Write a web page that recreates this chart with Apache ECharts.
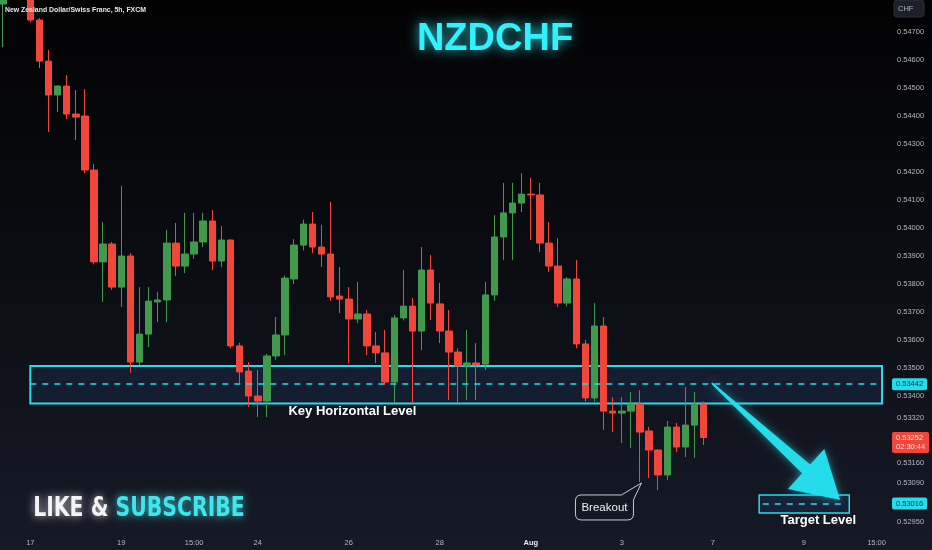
<!DOCTYPE html>
<html>
<head>
<meta charset="utf-8">
<script src="https://cdn.jsdelivr.net/npm/echarts@6/dist/echarts.min.js"></script>
<style>
html,body{margin:0;padding:0;background:#0b0d12;}
#chart{width:932px;height:550px;}
</style>
</head>
<body>
<div id="chart"></div>
<script>
// ---- candle data (5h NZDCHF), index = bar number ----
const opens = [
0.54800,0.54850,0.54900,0.54840,0.54743,0.54596,0.54475,0.54507,0.54407,0.54400,
0.54207,0.53879,0.53943,0.53789,0.53900,0.53521,0.53621,0.53736,0.53743,0.53946,
0.53864,0.53907,0.53950,0.54025,0.53882,0.53957,0.53579,0.53489,0.53400,0.53382,
0.53543,0.53618,0.53818,0.53939,0.54014,0.53932,0.53907,0.53757,0.53746,0.53675,
0.53693,0.53579,0.53554,0.53450,0.53679,0.53721,0.53632,0.53850,0.53729,0.53632,
0.53557,0.53507,0.53518,0.53514,0.53761,0.53968,0.54054,0.54089,0.54121,0.54118,
0.53946,0.53864,0.53732,0.53818,0.53586,0.53393,0.53650,0.53346,0.53339,0.53346,
0.53371,0.53275,0.53207,0.53118,0.53289,0.53218,0.53296,0.53371];
const closes = [
0.54850,0.54900,0.54840,0.54743,0.54596,0.54475,0.54507,0.54407,0.54396,0.54207,
0.53879,0.53943,0.53789,0.53900,0.53521,0.53621,0.53739,0.53743,0.53946,0.53864,
0.53907,0.53950,0.54025,0.53882,0.53957,0.53579,0.53486,0.53400,0.53382,0.53543,
0.53618,0.53821,0.53939,0.54014,0.53932,0.53907,0.53754,0.53746,0.53675,0.53693,
0.53579,0.53554,0.53450,0.53679,0.53721,0.53632,0.53850,0.53732,0.53632,0.53557,
0.53507,0.53518,0.53511,0.53761,0.53968,0.54054,0.54089,0.54121,0.54118,0.53946,
0.53864,0.53732,0.53818,0.53586,0.53393,0.53650,0.53346,0.53339,0.53346,0.53371,
0.53271,0.53207,0.53118,0.53289,0.53218,0.53296,0.53371,0.53252];
const lows = [
0.54646,0.54830,0.54820,0.54735,0.54571,0.54343,0.54414,0.54389,0.54314,0.54196,
0.53870,0.53736,0.53779,0.53718,0.53482,0.53511,0.53575,0.53664,0.53664,0.53829,
0.53839,0.53890,0.53932,0.53850,0.53860,0.53570,0.53446,0.53361,0.53325,0.53325,
0.53529,0.53546,0.53800,0.53920,0.53910,0.53861,0.53740,0.53696,0.53518,0.53660,
0.53546,0.53518,0.53440,0.53375,0.53670,0.53375,0.53564,0.53671,0.53589,0.53386,
0.53375,0.53386,0.53386,0.53493,0.53740,0.53886,0.53886,0.54057,0.53957,0.53914,
0.53843,0.53718,0.53720,0.53570,0.53380,0.53380,0.53279,0.53271,0.53232,0.53214,
0.53093,0.53107,0.53064,0.53100,0.53200,0.53182,0.53179,0.53225];
const highs = [
0.54870,0.54920,0.54910,0.54850,0.54750,0.54636,0.54510,0.54546,0.54493,0.54496,
0.54229,0.54021,0.53950,0.54150,0.53910,0.53789,0.53789,0.53771,0.53993,0.54018,
0.54054,0.54054,0.54054,0.54064,0.54007,0.53960,0.53590,0.53521,0.53493,0.53550,
0.53682,0.53830,0.53960,0.54030,0.54057,0.54011,0.54093,0.53861,0.53789,0.53807,
0.53707,0.53629,0.53636,0.53690,0.53850,0.53750,0.53932,0.53904,0.53804,0.53707,
0.53570,0.53636,0.53589,0.53807,0.54046,0.54161,0.54161,0.54196,0.54179,0.54161,
0.54021,0.53964,0.53825,0.53886,0.53600,0.53732,0.53682,0.53396,0.53396,0.53414,
0.53421,0.53290,0.53210,0.53311,0.53304,0.53432,0.53414,0.53380];

// ---- axes ----
const xTickIndex = [3, 13, 21, 28, 38, 48, 58, 68, 78, 88, 96];
const xTickText  = ['17', '19', '15:00', '24', '26', '28', 'Aug', '3', '7', '9', '15:00'];
const yTickValues = [0.547, 0.546, 0.545, 0.544, 0.543, 0.542, 0.541, 0.540, 0.539, 0.538,
                     0.537, 0.536, 0.535, 0.534, 0.5332, 0.5316, 0.5309, 0.5295];
const xRange = [-0.33, 96.6];
const yRange = [0.529143, 0.548143];

// ---- annotations ----
const keyLevel = 0.53442;
const zoneBounds = [0.53507, 0.53373];
const zoneStart = 3;
const targetLevel = 0.53016;
const targetBounds = [0.53046, 0.52982];
const targetSpan = [83.1, 93.0];
const targetLine = [83.5, 92.6];
const lastPrice = 0.53252;
const lastCountdown = '02:30:44';
const arrowFrom = [77.9, 0.53446];
const arrowTo = [92.0, 0.53029];
const breakoutIndex = 70;
const noteText = ['Key Horizontal Level', 'Target Level'];
const noteX = [38.4, 89.6];
const noteY = [0.53346, 0.52954];

const CYAN = '#25dceb';
const GREEN = '#41994d';
const RED = '#f2463a';
const FONT = '"Liberation Sans", Arial, sans-serif';
const CLEAR = 'rgba(0,0,0,0)';

const candleData = opens.map((o, i) => [i, o, closes[i], lows[i], highs[i]]);

const chart = echarts.init(document.getElementById('chart'), null, {renderer: 'canvas'});

const badge = (bg, fg, text) => ({
  show: true, position: 'end', distance: 10, formatter: text,
  backgroundColor: bg, color: fg, padding: [2, 4, 1, 4], borderRadius: 2,
  fontSize: 7.5, fontFamily: FONT, lineHeight: 9, opacity: 1
});

const option = {
  animation: false,
  backgroundColor: 'transparent',
  graphic: [
    {type: 'rect', z: -10, silent: true, shape: {x: 0, y: 0, width: 932, height: 550},
     style: {fill: new echarts.graphic.LinearGradient(0, 0, 0, 1, [
       {offset: 0, color: '#020203'}, {offset: 0.45, color: '#0a0c11'}, {offset: 1, color: '#161a26'}])}},
    {type: 'text', z: 100, x: 5, y: 10, style: {text: 'New Zealand Dollar/Swiss Franc, 5h, FXCM',
      fill: '#e6e8ee', font: 'bold 6.9px ' + FONT, verticalAlign: 'middle'}},
    {type: 'text', z: 100, x: 495, y: 40, style: {text: 'NZDCHF', align: 'center', verticalAlign: 'middle',
      fill: '#2ef3ff', font: 'bold 38px ' + FONT, textShadowColor: 'rgba(46,243,255,0.85)', textShadowBlur: 12}},
    {type: 'text', z: 100, x: 139, y: 509, scaleX: 0.84, style: {
      text: '{w|LIKE & }{c|SUBSCRIBE}', align: 'center', verticalAlign: 'middle',
      rich: {
        w: {fill: '#f4f4f4', font: 'bold 27px "Liberation Sans Narrow", "DejaVu Sans Condensed", ' + FONT,
            textShadowColor: 'rgba(255,255,255,0.75)', textShadowBlur: 9},
        c: {fill: '#3fe6ee', font: 'bold 27px "Liberation Sans Narrow", "DejaVu Sans Condensed", ' + FONT,
            textShadowColor: 'rgba(63,230,238,0.85)', textShadowBlur: 9}
      }}},
    {type: 'group', z: 100, children: [
      {type: 'rect', shape: {x: 894, y: 0, width: 30, height: 17, r: 3}, style: {fill: '#1c2029', stroke: '#2a2e39', lineWidth: 1}},
      {type: 'text', x: 898, y: 9, style: {text: 'CHF', fill: '#b2b5be', font: '7.5px ' + FONT, verticalAlign: 'middle'}}
    ]}
  ],
  grid: {left: 0, right: 50, top: 0, bottom: 18, containLabel: false},
  xAxis: {
    type: 'value', min: xRange[0], max: xRange[1],
    axisLine: {show: false}, axisTick: {show: false}, splitLine: {show: false},
    axisLabel: {
      customValues: xTickIndex, margin: 7, color: '#b2b5be', fontSize: 7.5, fontFamily: FONT,
      formatter: v => {
        const k = xTickIndex.indexOf(Math.round(v));
        const t = k >= 0 ? xTickText[k] : '';
        return t === 'Aug' ? '{b|Aug}' : t;
      },
      rich: {b: {color: '#e6e8ee', fontWeight: 'bold', fontSize: 7.5, fontFamily: FONT}}
    }
  },
  yAxis: {
    type: 'value', position: 'right', min: yRange[0], max: yRange[1], scale: true,
    axisLine: {show: false}, axisTick: {show: false}, splitLine: {show: false},
    axisLabel: {customValues: yTickValues, margin: 15, color: '#b2b5be', fontSize: 7.5, fontFamily: FONT,
      formatter: v => v.toFixed(5)}
  },
  series: [
    {
      type: 'candlestick', name: 'NZDCHF',
      data: candleData, encode: {x: 0, y: [1, 2, 3, 4]},
      barWidth: 7, clip: true,
      itemStyle: {color: GREEN, color0: RED, borderColor: GREEN, borderColor0: RED, borderWidth: 1},
      markArea: {
        silent: true,
        data: [
          [{coord: [zoneStart, zoneBounds[0]], itemStyle: {color: 'rgba(34,52,96,0.32)', borderColor: CYAN, borderWidth: 2}},
           {coord: [xRange[1], zoneBounds[1]]}],
          [{coord: [targetSpan[0], targetBounds[0]], itemStyle: {color: 'rgba(34,52,96,0.32)', borderColor: CYAN, borderWidth: 1.5}},
           {coord: [targetSpan[1], targetBounds[1]]}]
        ]
      },
      markLine: {
        silent: true, symbol: 'none',
        data: [
          [{coord: [zoneStart, keyLevel], lineStyle: {color: CYAN, type: [6, 6], width: 1.5},
            label: badge(CYAN, '#053840', keyLevel.toFixed(5))},
           {coord: [xRange[1], keyLevel]}],
          [{coord: [targetLine[0], targetLevel], lineStyle: {color: CYAN, type: [6, 6], width: 1.5}, label: {show: false}},
           {coord: [targetLine[1], targetLevel]}],
          [{coord: [targetSpan[1], targetLevel], lineStyle: {color: CLEAR, width: 1},
            label: badge(CYAN, '#053840', targetLevel.toFixed(5))},
           {coord: [xRange[1], targetLevel]}],
          [{coord: [xRange[0], lastPrice], lineStyle: {color: CLEAR, width: 1},
            label: Object.assign(badge(RED, '#ffe3e0', lastPrice.toFixed(5) + '\n' + lastCountdown), {offset: [0, 5]})},
           {coord: [xRange[1], lastPrice]}]
        ]
      }
    },
    {
      type: 'custom', name: 'arrow', clip: false, silent: true, z: 5,
      data: [[arrowFrom[0], arrowFrom[1], arrowTo[0], arrowTo[1]]],
      encode: {x: [0, 2], y: [1, 3]},
      renderItem: (params, api) => {
        const s = api.coord([api.value(0), api.value(1)]);
        const t = api.coord([api.value(2), api.value(3)]);
        const dx = t[0] - s[0], dy = t[1] - s[1], len = Math.hypot(dx, dy);
        const ux = dx / len, uy = dy / len, nx = -uy, ny = ux;
        const headL = 46, headW = 27, w0 = 1, w1 = 6;
        const bx = t[0] - ux * headL, by = t[1] - uy * headL;
        const pts = [
          [s[0] + nx * w0, s[1] + ny * w0], [bx + nx * w1, by + ny * w1], [bx + nx * headW, by + ny * headW],
          [t[0], t[1]],
          [bx - nx * headW, by - ny * headW], [bx - nx * w1, by - ny * w1], [s[0] - nx * w0, s[1] - ny * w0]];
        return {type: 'polygon', shape: {points: pts},
          style: {fill: CYAN, shadowBlur: 8, shadowColor: 'rgba(37,220,235,0.6)'}};
      }
    },
    {
      type: 'custom', name: 'breakout', clip: false, silent: true, z: 6,
      data: [[breakoutIndex, lows[breakoutIndex]]],
      encode: {x: 0, y: 1},
      renderItem: (params, api) => {
        const a = api.coord([api.value(0), api.value(1)]);
        const ax = a[0] + 1.5, ay = a[1] + 1;
        const x0 = ax - 66, x1 = ax - 8, y0 = ay + 12, y1 = ay + 37, r = 6;
        const d = `M${x0 + r} ${y0} L${x1 - 12} ${y0} L${ax} ${ay} L${x1} ${y0 + 5} L${x1} ${y1 - r} ` +
          `Q${x1} ${y1} ${x1 - r} ${y1} L${x0 + r} ${y1} Q${x0} ${y1} ${x0} ${y1 - r} L${x0} ${y0 + r} Q${x0} ${y0} ${x0 + r} ${y0} Z`;
        return {type: 'group', children: [
          {type: 'path', shape: {pathData: d}, style: {fill: '#131722', stroke: '#c8ccd4', lineWidth: 1}},
          {type: 'text', style: {text: 'Breakout', x: (x0 + x1) / 2, y: (y0 + y1) / 2, align: 'center',
            verticalAlign: 'middle', fill: '#eceff4', font: '11.5px ' + FONT}}
        ]};
      }
    },
    {
      type: 'custom', name: 'notes', clip: false, silent: true, z: 6,
      data: noteText.map((t, i) => [noteX[i], noteY[i], t]),
      encode: {x: 0, y: 1},
      renderItem: (params, api) => {
        const p = api.coord([api.value(0), api.value(1)]);
        return {type: 'text', style: {text: noteText[params.dataIndex], x: p[0], y: p[1], align: 'center',
          verticalAlign: 'middle', fill: '#ffffff', font: 'bold 13px ' + FONT}};
      }
    }
  ]
};
chart.setOption(option);
</script>
</body>
</html>
